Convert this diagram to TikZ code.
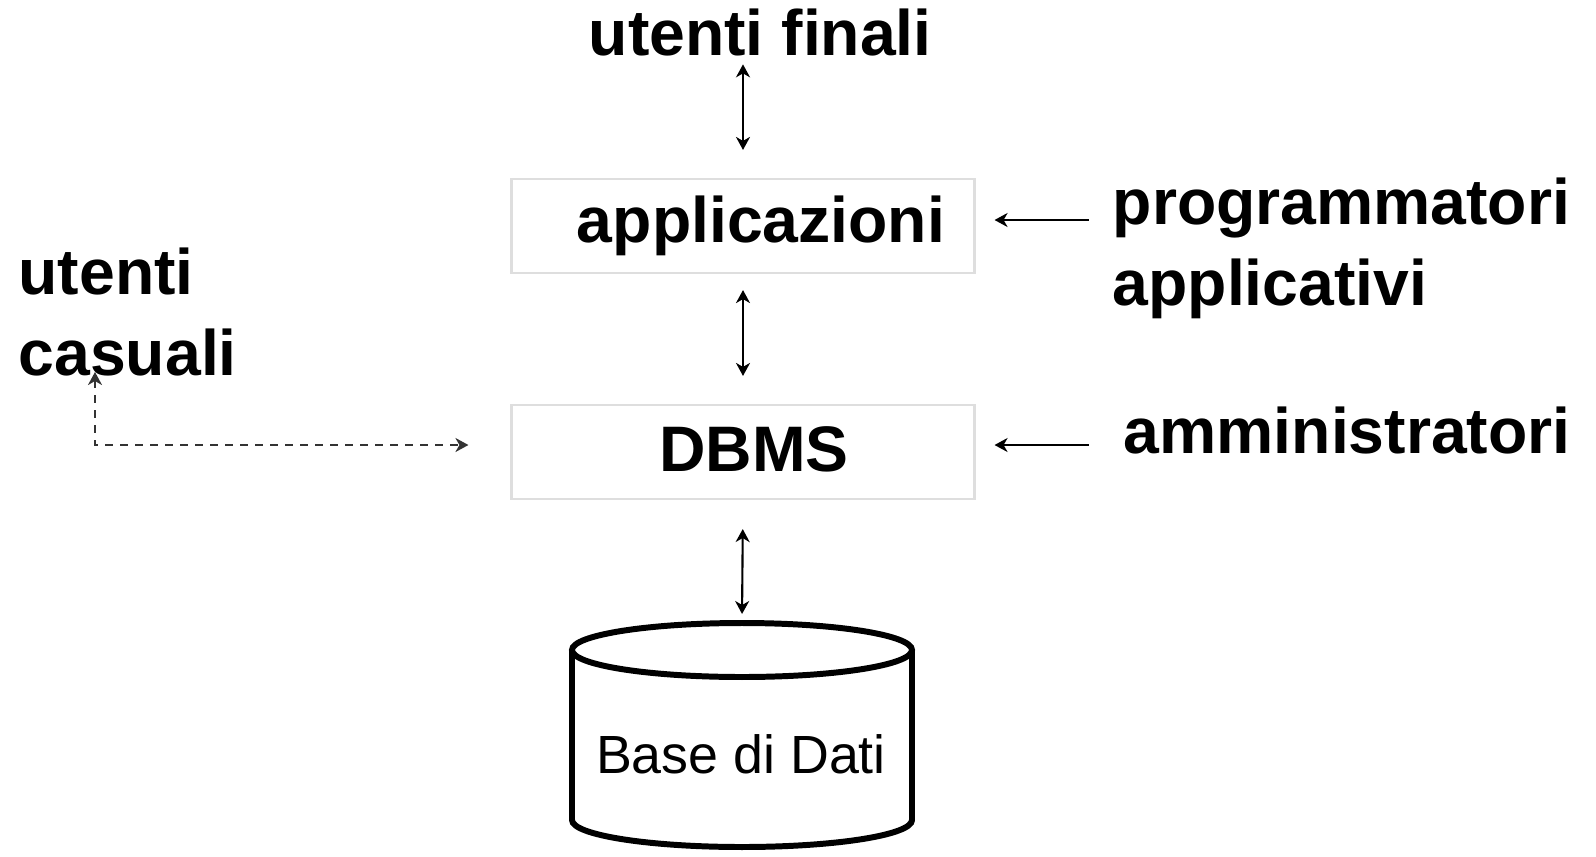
\documentclass[tikz,border=0pt]{standalone}
\usepackage{fontspec}
\setmainfont{Liberation Sans}
\usetikzlibrary{arrows.meta}
\begin{document}
\begin{tikzpicture}[>={Stealth[length=1.3mm,width=1.4mm,inset=0.4mm]},
  lbl/.style={font=\fontsize{18.3}{22.8}\selectfont\bfseries,inner sep=0pt,align=left,anchor=base west},
  layer/.style={draw=black!13,line width=0.6pt,minimum width=4.63cm,minimum height=0.94cm,inner sep=0pt,font=\fontsize{18.3}{22}\selectfont\bfseries},
  link/.style={line width=0.6pt}]
\useasboundingbox (0,0) rectangle (15.96,8.56);
% layers
\node[layer] (app) at (7.43,6.30) {\hspace*{0.36cm}applicazioni};
\node[layer] (dbms) at (7.43,4.04) {\hspace*{0.22cm}\raisebox{0.06cm}{DBMS}};
% users
\node[lbl] (fin) at (5.88,8.01) {utenti finali};
\node[lbl] (prog) at (11.12,5.51) {programmatori\\applicativi};
\node[lbl] (amm) at (11.23,4.03) {amministratori};
\node[lbl] (cas) at (0.18,4.81) {utenti\\casuali};
% database
\draw[line width=1.7pt] (7.42,2.06) ellipse [x radius=1.70,y radius=0.27];
\draw[line width=1.7pt] (5.72,2.06) -- (5.72,0.36) arc [start angle=180,end angle=360,x radius=1.70,y radius=0.27] -- (9.12,2.06);
\coordinate (dbtop) at (7.42,2.36);
\node[font=\fontsize{15.3}{18}\selectfont,inner sep=0pt,anchor=base] (db) at (7.41,0.83) {Base di Dati};
% connectors
\draw[link,<->,shorten <=0.08cm,shorten >=0.28cm] (fin.south -| app.north) -- (app.north);
\draw[link,<->,shorten <=0.16cm,shorten >=0.28cm] (app.south) -- (dbms.north);
\draw[link,<->,shorten <=0.29cm,shorten >=0.06cm] (dbms.south) -- (dbtop);
\draw[link,<-] ([shift={(0.19,0.06)}]app.east) -- ++(0.94,0);
\draw[link,<-] ([shift={(0.19,0.07)}]dbms.east) -- ++(0.94,0);
\coordinate (castip) at (0.95,4.84);
\draw[link,<->,draw=black!80,dash pattern=on 0.08cm off 0.07cm,shorten >=0.42cm] (castip) |- ([yshift=0.07cm]dbms.west);
\end{tikzpicture}
\end{document}
